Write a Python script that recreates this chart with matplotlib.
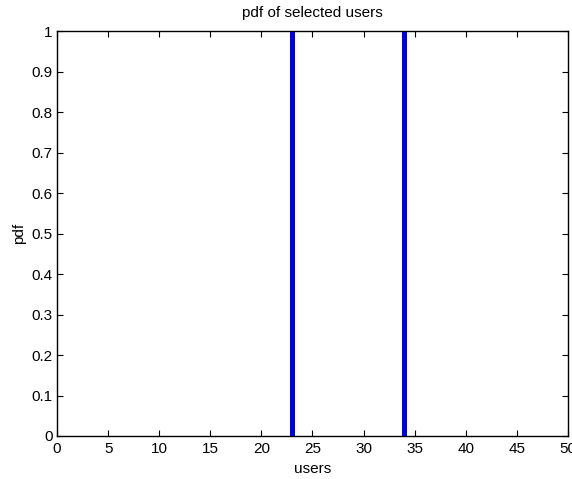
import matplotlib
matplotlib.use('Agg')
import matplotlib.pyplot as plt
import numpy as np

plt.rcParams['font.family'] = ['Liberation Sans', 'DejaVu Sans']

# selected users and their pdf values
users = [23, 34]
pdf = [1.0, 1.0]

xticks = np.arange(0, 51, 5)
yticks = np.arange(0, 1.01, 0.1)

fig = plt.figure(figsize=(5.72, 4.79), dpi=100)
ax = fig.add_axes([0.0997, 0.0898, 0.893, 0.845])

ax.vlines(users, 0, pdf, colors='#0000e6', linewidth=3.6)

ax.set_xlim(0, 50)
ax.set_ylim(0, 1)
ax.set_xticks(xticks)
ax.set_yticks(yticks)
ax.set_yticklabels(['0'] + ['%g' % v for v in yticks[1:]])
ax.tick_params(direction='in', top=True, right=True, length=4, labelsize=11, pad=3)
ax.tick_params(axis='x', pad=4)
for s in ax.spines.values():
    s.set_linewidth(1.0)

ax.set_xlabel('users', fontsize=11, labelpad=5)
ax.set_ylabel('pdf', fontsize=11, labelpad=4)
ax.set_title('pdf of selected users', fontsize=11, pad=10)

fig.savefig('out.png', dpi=100)
